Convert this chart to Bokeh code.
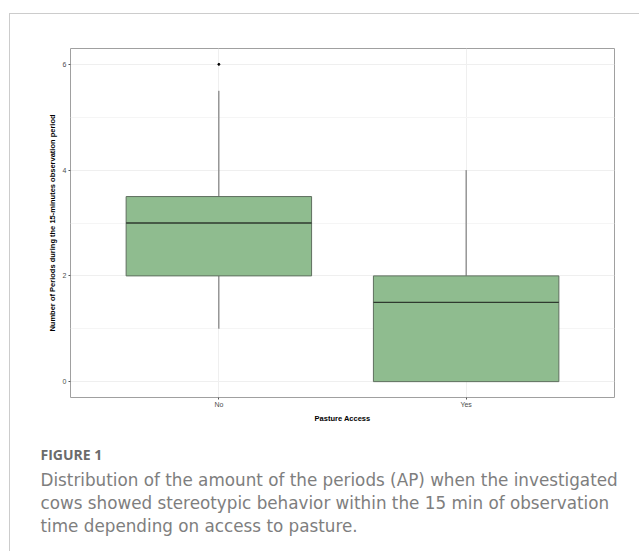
from bokeh.plotting import figure
from bokeh.layouts import column, row
from bokeh.models import FactorRange, Range1d, FixedTicker
from bokeh.core.properties import value
from bokeh.embed import file_html
from bokeh.resources import INLINE

# ---- data ----
categories = ["No", "Yes"]
q1 = [2.0, 0.0]
median = [3.0, 1.5]
q3 = [3.5, 2.0]
whisker_low = [1.0, 0.0]
whisker_high = [5.5, 4.0]
outlier_cat = ["No"]
outlier_val = [6.0]
y_ticks = [0, 2, 4, 6]
y_minor = [1, 3, 5]

x_title = "Pasture Access"
y_title = "Number of Periods during the 15-minutes observation period"
fig_label = "FIGURE 1"
caption_lines = [
    "Distribution of the amount of the periods (AP) when the investigated",
    "cows showed stereotypic behavior within the 15 min of observation",
    "time depending on access to pasture.",
]

# ---- chart figure ----
p = figure(width=629, height=416, output_backend="svg", toolbar_location=None,
           x_range=FactorRange(*categories, range_padding=0.1, range_padding_units="percent"),
           y_range=Range1d(-0.3, 6.3),
           min_border_left=60, min_border_right=25, min_border_top=34, min_border_bottom=33)
p.background_fill_color = "white"
p.border_fill_color = "white"
p.outline_line_color = "#a0a0a0"
p.outline_line_width = 1

p.ygrid.ticker = FixedTicker(ticks=y_ticks, minor_ticks=y_minor)
p.ygrid.grid_line_color = "#efefef"
p.ygrid.grid_line_width = 1
p.ygrid.minor_grid_line_color = "#f5f5f5"
p.ygrid.minor_grid_line_width = 1
p.xgrid.grid_line_color = "#efefef"
p.xgrid.grid_line_width = 1

p.yaxis.ticker = FixedTicker(ticks=y_ticks)
for ax in (p.xaxis[0], p.yaxis[0]):
    ax.axis_line_color = None
    ax.major_tick_line_color = "#555555"
    ax.major_tick_in = 0
    ax.major_tick_out = 2
    ax.minor_tick_line_color = None
    ax.major_label_text_font = "Liberation Sans"
    ax.major_label_text_font_size = "7px"
    ax.major_label_text_color = "#4d4d4d"
    ax.axis_label_text_font = "Liberation Sans"
    ax.axis_label_text_font_size = "7.5px"
    ax.axis_label_text_font_style = "bold"
    ax.axis_label_text_color = "black"
p.xaxis.major_label_standoff = 1
p.yaxis.major_label_standoff = 2
p.xaxis.axis_label = x_title
p.yaxis.axis_label = y_title
p.xaxis.axis_label_standoff = 3
p.yaxis.axis_label_standoff = 3

p.segment(x0=categories, y0=q3, x1=categories, y1=whisker_high, line_color="#666666", line_width=1)
p.segment(x0=categories, y0=whisker_low, x1=categories, y1=q1, line_color="#666666", line_width=1)
p.vbar(x=categories, bottom=q1, top=q3, width=0.75, fill_color="#8fbc8f",
       line_color="#5f6f5f", line_width=1)
p.vbar(x=categories, bottom=median, top=median, width=0.75, fill_alpha=0,
       line_color="#2f3a2f", line_width=1.3)
p.scatter(x=outlier_cat, y=outlier_val, size=2, color="black")

# ---- caption figure (data units = page pixels) ----
c = figure(width=629, height=121, output_backend="svg", toolbar_location=None,
           x_range=Range1d(10, 639), y_range=Range1d(551, 430),
           min_border=0, min_border_left=0, min_border_right=0,
           min_border_top=0, min_border_bottom=0)
c.axis.visible = False
c.grid.visible = False
c.outline_line_color = None
c.background_fill_color = "white"
c.border_fill_color = "white"

c.text(x=[40], y=[454], text=[fig_label], text_font=value("Open Sans"),
       text_font_size="14px", text_font_style="bold", text_color="#6b6b6b",
       text_baseline="alphabetic")
c.text(x=[40] * len(caption_lines), y=[479 + 23 * i for i in range(len(caption_lines))],
       text=caption_lines, text_font=value("DejaVu Sans"), text_font_size="16.8px",
       text_color="#7e7e7e", text_baseline="alphabetic")

layout = column(p, row(c), spacing=0,
                styles={"border-top": "1px solid #cccccc", "border-left": "1px solid #cccccc",
                        "margin-top": "13px", "margin-left": "9px"})

open("out.html", "w").write(file_html(layout, INLINE))
